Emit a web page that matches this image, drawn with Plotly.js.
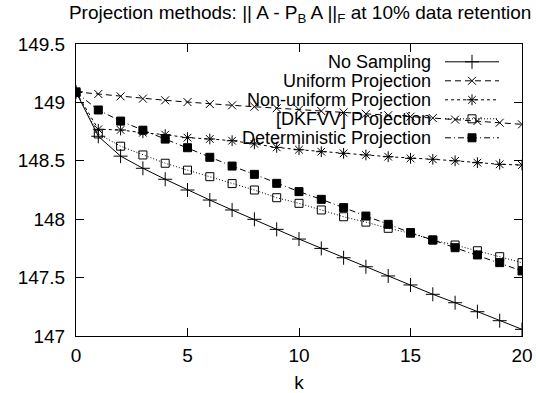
<!DOCTYPE html>
<html>
<head>
<meta charset="utf-8">
<script src="https://cdn.plot.ly/plotly-3.0.1.min.js"></script>
<style>html,body{margin:0;padding:0;background:#fff}#chart{width:536px;height:393px}</style>
</head>
<body>
<div id="chart"></div>
<script>
const k = [0,1,2,3,4,5,6,7,8,9,10,11,12,13,14,15,16,17,18,19,20];
const seriesNames = ["No Sampling","Uniform Projection","Non-uniform Projection","[DKFVV] Projection","Deterministic Projection"];
const noSampling = [149.09,148.71,148.54,148.436,148.342,148.25,148.164,148.079,147.999,147.913,147.83,147.75,147.67,147.593,147.514,147.437,147.357,147.285,147.208,147.131,147.057];
const uniform = [149.09,149.072,149.052,149.032,149.018,149.003,148.986,148.975,148.963,148.95,148.938,148.926,148.914,148.902,148.89,148.878,148.866,148.853,148.84,148.826,148.812];
const nonUniform = [149.09,148.77,148.764,148.74,148.724,148.698,148.687,148.672,148.645,148.615,148.595,148.578,148.564,148.55,148.535,148.521,148.513,148.5,148.484,148.47,148.464];
const dkfvv = [149.09,148.73,148.625,148.55,148.479,148.42,148.364,148.305,148.25,148.184,148.136,148.079,148.021,147.975,147.922,147.88,147.822,147.779,147.73,147.679,147.628];
const deterministic = [149.086,148.935,148.84,148.762,148.686,148.612,148.53,148.455,148.384,148.307,148.236,148.17,148.099,148.027,147.956,147.885,147.822,147.756,147.694,147.628,147.557];
const xTicks = [0,5,10,15,20];
const yTicks = [147,147.5,148,148.5,149,149.5];
const yTickText = ["147","147.5","148","148.5","149","149.5"];

const FONT = "Liberation Sans, Arial, Helvetica, sans-serif";
const values = [noSampling, uniform, nonUniform, dkfvv, deterministic];
const styles = [
  {dash:"solid", symbol:"cross-thin-open", size:10},
  {dash:"6px,4px", symbol:"x-thin-open", size:8},
  {dash:"3px,3px", symbol:"asterisk-open", size:9},
  {dash:"1px,2px", symbol:"square-open", size:8},
  {dash:"6px,3px,1px,3px", symbol:"square", size:8}
];
const traces = values.map((v,i)=>({
  x:k, y:v, type:"scatter", mode:"lines+markers", name:"\u00a0",
  line:{color:"#000", width:1, dash:styles[i].dash},
  marker:{symbol:styles[i].symbol, size:styles[i].size, color:"#000", line:{color:"#000", width:1}}
}));

const annotations = seriesNames.map((n,i)=>({
  xref:"paper", yref:"paper",
  x:(433-76)/446, y:1-(62.3+19*i-44)/292,
  xanchor:"right", yanchor:"middle", showarrow:false,
  text:n, font:{family:FONT, size:18, color:"#000"}
}));

const layout = {
  width:536, height:393,
  margin:{l:76, r:14, t:44, b:57},
  paper_bgcolor:"#fff", plot_bgcolor:"#fff",
  font:{family:FONT, size:18, color:"#000"},
  title:{text:"Projection methods: || A - P<sub>B</sub> A ||<sub>F</sub> at 10% data retention",
    font:{family:FONT, size:19, color:"#000"}, x:0.56, xanchor:"center", y:0.985, yanchor:"top"},
  xaxis:{range:[0,20], tickvals:xTicks, ticks:"inside", ticklen:8, tickcolor:"#000",
    showline:true, linecolor:"#000", linewidth:1, mirror:"allticks", showgrid:false, zeroline:false,
    ticklabelstandoff:2,
    tickfont:{family:FONT, size:19}, title:{text:"k", font:{family:FONT, size:19}, standoff:10}},
  yaxis:{range:[147,149.5], tickvals:yTicks, ticktext:yTickText, ticks:"inside", ticklen:8, tickcolor:"#000",
    showline:true, linecolor:"#000", linewidth:1, mirror:"allticks", showgrid:false, zeroline:false,
    ticklabelstandoff:6,
    tickfont:{family:FONT, size:19}},
  showlegend:true,
  legend:{x:(440-76)/446, xanchor:"left", y:1-(47.3-44)/292, yanchor:"top",
    bgcolor:"rgba(0,0,0,0)", borderwidth:0, font:{family:FONT, size:12}, itemwidth:54,
    tracegroupgap:0},
  annotations:annotations
};
Plotly.newPlot("chart", traces, layout, {displayModeBar:false, staticPlot:true});
</script>
</body>
</html>
